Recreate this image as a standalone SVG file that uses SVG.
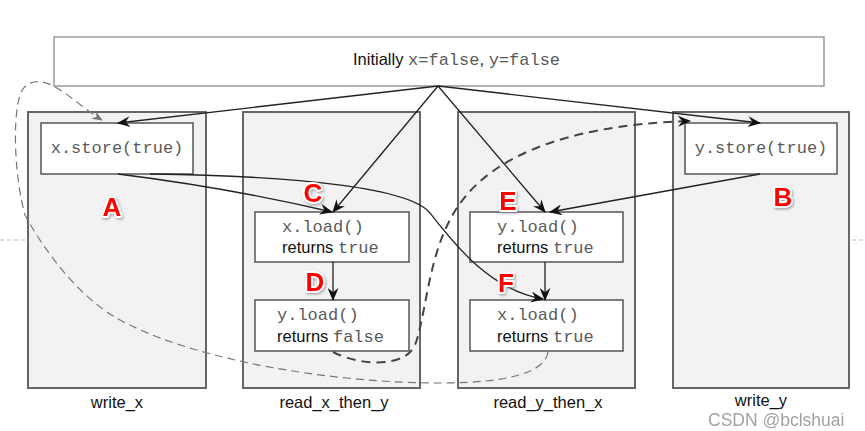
<svg xmlns="http://www.w3.org/2000/svg" width="865" height="431" viewBox="0 0 865 431">
<defs>
<style>
.lane{fill:#f2f2f2;stroke:#666;stroke-width:2}
.box{fill:#fff;stroke:#555;stroke-width:1.5}
.top{fill:#fff;stroke:#999;stroke-width:1.5}
.mono{font-family:"Liberation Mono","Courier New",monospace;font-size:17px;fill:#5a5a5a}
.sans{font-family:"Liberation Sans",Arial,sans-serif;font-size:16.5px;fill:#111}
.lbl{font-family:"Liberation Sans",Arial,sans-serif;font-size:16.5px;fill:#111;text-anchor:middle}
.tag{font-family:"Liberation Sans",Arial,sans-serif;font-size:26px;font-weight:bold;fill:#f00;stroke:#fff;stroke-width:4;stroke-linejoin:round;paint-order:stroke;text-anchor:middle;filter:url(#sh)}
.arr{fill:none;stroke:#222;stroke-width:1.3;marker-end:url(#ah)}
.dk{fill:none;stroke:#444;stroke-width:2;stroke-dasharray:9 6;marker-end:url(#ah)}
.lt{fill:none;stroke:#777;stroke-width:1.2;stroke-dasharray:8 5;marker-end:url(#ag)}
</style>
<filter id="sh" x="-30%" y="-30%" width="160%" height="160%">
<feDropShadow dx="1" dy="1.5" stdDeviation="1" flood-color="#888" flood-opacity="0.7"/>
</filter>
<marker id="ah" viewBox="0 0 12 10" refX="11" refY="5" markerWidth="14" markerHeight="11" orient="auto" markerUnits="userSpaceOnUse">
<path d="M0,0 L12,5 L0,10 L4,5 z" fill="#111"/>
</marker>
<marker id="ag" viewBox="0 0 12 10" refX="11" refY="5" markerWidth="12" markerHeight="9" orient="auto" markerUnits="userSpaceOnUse">
<path d="M0,0 L12,5 L0,10 L4,5 z" fill="#777"/>
</marker>
</defs>
<rect width="865" height="431" fill="#fff"/>
<path d="M0,240 H27 M852,240 H865" stroke="#bbb" stroke-width="1" stroke-dasharray="4 3"/>

<g id="initial">
<rect class="top" x="54" y="37" width="770" height="49"/>
<text x="353" y="65" class="sans">Initially <tspan class="mono">x=false</tspan>, <tspan class="mono">y=false</tspan></text>
</g>

<g id="lane-write_x">
<rect class="lane" x="28" y="112" width="178" height="276"/>
<text class="lbl" x="117" y="408">write_x</text>
</g>
<g id="lane-read_x_then_y">
<rect class="lane" x="243" y="112" width="177" height="276"/>
<text class="lbl" x="334" y="408">read_x_then_y</text>
</g>
<g id="lane-read_y_then_x">
<rect class="lane" x="458" y="112" width="177" height="276"/>
<text class="lbl" x="548" y="408">read_y_then_x</text>
</g>
<g id="lane-write_y">
<rect class="lane" x="673" y="112" width="176" height="276"/>
<text class="lbl" x="761" y="406">write_y</text>
</g>

<g id="x-store">
<rect class="box" x="41" y="123" width="152" height="51"/>
<text class="mono" x="117" y="153" text-anchor="middle">x.store(true)</text>
</g>
<g id="y-store">
<rect class="box" x="685" y="123" width="152" height="51"/>
<text class="mono" x="761" y="153" text-anchor="middle">y.store(true)</text>
</g>
<g id="x-load-1">
<rect class="box" x="255" y="212" width="154" height="50"/>
<text class="mono" x="282" y="232">x.load()</text>
<text class="sans" x="282" y="253">returns <tspan class="mono">true</tspan></text>
</g>
<g id="y-load-1">
<rect class="box" x="255" y="300" width="154" height="51"/>
<text class="mono" x="277" y="320">y.load()</text>
<text class="sans" x="277" y="342">returns <tspan class="mono">false</tspan></text>
</g>
<g id="y-load-2">
<rect class="box" x="470" y="212" width="153" height="50"/>
<text class="mono" x="497" y="232">y.load()</text>
<text class="sans" x="497" y="253">returns <tspan class="mono">true</tspan></text>
</g>
<g id="x-load-2">
<rect class="box" x="470" y="300" width="153" height="51"/>
<text class="mono" x="497" y="320">x.load()</text>
<text class="sans" x="497" y="342">returns <tspan class="mono">true</tspan></text>
</g>

<g id="connectors">
<path class="arr" d="M438,86 L118,123"/>
<path class="arr" d="M438,86 L333,212"/>
<path class="arr" d="M438,86 L545,212"/>
<path class="arr" d="M438,86 L760,123"/>
<path class="arr" d="M118,174 Q230,188 332,212"/>
<path class="arr" d="M150,174 C300,176 410,188 430,213 C455,245 490,290 543,299"/>
<path class="arr" d="M760,174 L550,212"/>
<path class="arr" d="M333,262 L333,300"/>
<path class="arr" d="M545,262 L545,300"/>
<path class="dk" d="M333,352 C360,366 405,368 415,345 C425,320 428,260 450,220 C480,160 560,125 690,121"/>
<path class="lt" d="M548,352 C545,372 510,383 440,383 C330,383 200,360 130,325 C95,310 55,270 25,215 C15,180 12,120 20,95 C25,80 40,78 55,87 C70,95 85,110 102,120"/>
</g>

<g id="tags">
<text class="tag" x="112" y="216">A</text>
<text class="tag" x="783" y="206">B</text>
<text class="tag" x="313" y="202">C</text>
<text class="tag" x="315" y="291">D</text>
<text class="tag" x="508" y="210">E</text>
<text class="tag" x="506" y="292">F</text>
</g>

<text x="708" y="426" font-family="'Liberation Sans',Arial,sans-serif" font-size="17.5" fill="#999" stroke="#fff" stroke-width="2" paint-order="stroke" opacity="0.9">CSDN @bclshuai</text>
</svg>
